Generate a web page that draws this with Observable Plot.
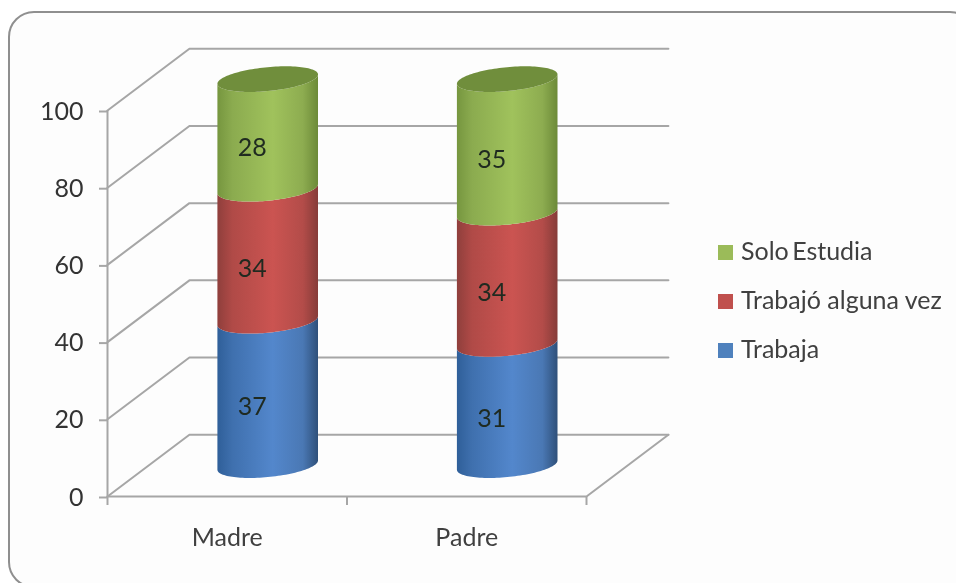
<!DOCTYPE html>
<html lang="es">
<head>
<meta charset="utf-8">
<script src="https://cdn.jsdelivr.net/npm/d3@7"></script>
<script src="https://cdn.jsdelivr.net/npm/@observablehq/plot@0.6"></script>
<style>
html,body{margin:0;padding:0;background:#fff;overflow:hidden;width:956px;height:583px}
#frame{position:absolute;left:8px;top:11px;width:968px;height:577px;box-sizing:border-box;border:2px solid #8f8f8f;border-radius:26px;background:#fdfdfd}
#chart{position:absolute;left:0;top:0;filter:blur(.45px)}
#legend{position:absolute;left:718px;top:0;font:25px Lato,sans-serif;color:#404040;filter:blur(.45px)}
#legend div{position:absolute;white-space:nowrap;line-height:26px;padding-left:23px;left:0}
#legend i{position:absolute;left:0;top:8px;width:15px;height:15px}
</style>
</head>
<body>
<div id="frame"></div>
<div id="chart"></div>
<div id="legend"></div>
<script>
const categories = ["Madre", "Padre"];
const trabaja = [37.4, 31.4];
const trabajoAlgunaVez = [34.2, 34];
const soloEstudia = [28.4, 34.6];
const seriesNames = ["Trabaja", "Trabajó alguna vez", "Solo Estudia"];
const seriesColors = ["#4f81bd", "#c0504d", "#9bbb59"];
const yTicks = [0, 20, 40, 60, 80, 100];

// 3-D projection, in data units of the two scales
const depthX = 0.342, depthY = 16;
const radius = 0.21, ellipseB = 3.1, tilt = 1.2;
const angles = d3.range(0, 61).map(i => i * Math.PI / 60);

const gridLines = yTicks.flatMap(v => [
  {v, x: 0, y: v},
  {v, x: depthX, y: v + depthY},
  {v, x: 2 + depthX, y: v + depthY}
]);
const floorFront = [{x: 0, y: 0}, {x: 2, y: 0}, {x: 2 + depthX, y: depthY}];

const seriesValues = [trabaja, trabajoAlgunaVez, soloEstudia];
const bodies = [], labels = [];
categories.forEach((cat, c) => {
  const cx = c + 0.5 + depthX / 2;
  let base = depthY / 2;
  seriesValues.forEach((vals, s) => {
    const v = vals[c], top = base + v;
    angles.forEach(t => {
      const u = -Math.cos(t), w = Math.sin(t);
      bodies.push({key: `${c}-${s}`, s, x: cx + radius * u,
        y1: base + tilt * u - ellipseB * w, y2: top + tilt * u - ellipseB * w});
    });
    labels.push({x: cx, y: base + v / 2, text: String(Math.round(v))});
    base = top;
  });
});
const tops = categories.flatMap((cat, c) => {
  const cx = c + 0.5 + depthX / 2;
  const h = depthY / 2 + trabaja[c] + trabajoAlgunaVez[c] + soloEstudia[c];
  return angles.map(t => {
    const u = -Math.cos(t), w = Math.sin(t);
    return {c, x: cx + radius * u, y1: h + tilt * u - ellipseB * w, y2: h + tilt * u + ellipseB * w};
  });
});

function gradients() {
  const svg = d3.create("svg:defs");
  const stops = [
    ["g0", ["#2f5f99", "#3f70ae", "#5387cc", "#4a78b4", "#2f507a"]],
    ["g1", ["#8f3f3c", "#b04a47", "#cb5451", "#b34c49", "#863c39"]],
    ["g2", ["#76963f", "#8bab4f", "#a0c25c", "#8dac50", "#6c8a38"]]
  ];
  for (const [id, cs] of stops) {
    const g = svg.append("linearGradient").attr("id", id);
    [0, .15, .55, .85, 1].forEach((o, i) => g.append("stop").attr("offset", o).attr("stop-color", cs[i]));
  }
  return svg.node();
}

const chart = Plot.plot({
  width: 956, height: 583,
  marginLeft: 107, marginRight: 370, marginTop: 110, marginBottom: 87,
  style: {fontFamily: "Lato, sans-serif", background: "transparent", overflow: "visible"},
  x: {domain: [0, 2]},
  y: {domain: [0, 100]},
  marks: [
    gradients,
    Plot.line(gridLines, {x: "x", y: "y", z: "v", stroke: "#a6a6a6", strokeWidth: 2}),
    Plot.line(floorFront, {x: "x", y: "y", stroke: "#a6a6a6", strokeWidth: 2}),
    Plot.axisY({ticks: yTicks, anchor: "left", tickSize: 8, tickPadding: 16, fontSize: 25, dy: 1, label: null, stroke: "#a6a6a6", strokeWidth: 2, fill: "#333"}),
    Plot.ruleX([0], {y1: 0, y2: 100, stroke: "#a6a6a6", strokeWidth: 2}),
    Plot.axisX({ticks: [0, 1, 2], tickSize: 9, tickFormat: () => "", label: null, stroke: "#a6a6a6", strokeWidth: 2}),
    Plot.axisX({ticks: [0.5, 1.5], tickSize: 0, tickPadding: 32, fontSize: 25, label: null, tickFormat: d => categories[Math.floor(d)], fill: "#404040"}),
    ...[0, 1, 2].map(s => Plot.areaY(bodies.filter(d => d.s === s), {x: "x", y1: "y1", y2: "y2", z: "key", fill: `url(#g${s})`})),
    Plot.areaY(tops, {x: "x", y1: "y1", y2: "y2", z: "c", fill: "#708e3c"}),
    Plot.text(labels, {x: "x", y: "y", text: "text", dx: -16, dy: 14, fontSize: 25, fill: "#1f2a20"})
  ]
});
document.getElementById("chart").append(chart);

const legendTops = {"Solo Estudia": 237, "Trabajó alguna vez": 286, "Trabaja": 335};
const legendWordSpacing = {"Solo Estudia": "-3px", "Trabajó alguna vez": "0", "Trabaja": "0"};
const legend = document.getElementById("legend");
[2, 1, 0].forEach(s => {
  const row = document.createElement("div");
  row.style.top = legendTops[seriesNames[s]] + "px";
  row.style.wordSpacing = legendWordSpacing[seriesNames[s]];
  row.innerHTML = `<i style="background:${seriesColors[s]}"></i>${seriesNames[s]}`;
  legend.append(row);
});
</script>
</body>
</html>
